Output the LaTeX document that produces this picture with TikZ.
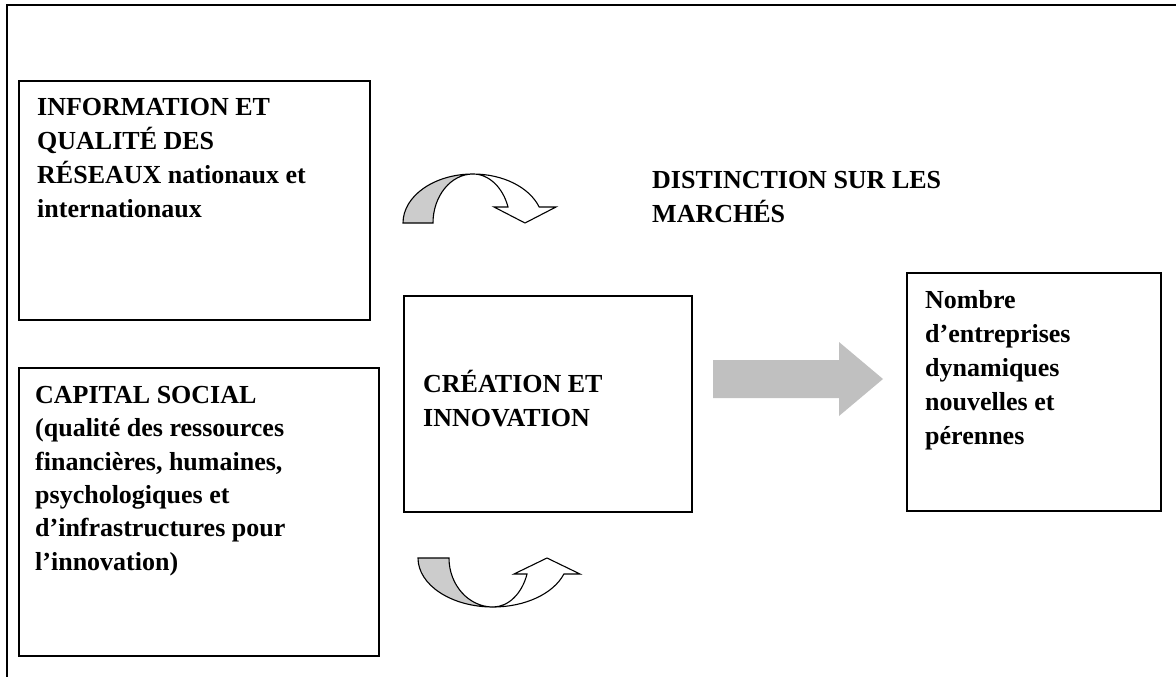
\documentclass[tikz,border=0pt]{standalone}
\usepackage{fontspec}
\setmainfont{Liberation Serif}
\definecolor{bandgray}{RGB}{204,204,204}
\definecolor{flowgray}{RGB}{192,192,192}
\newcommand{\firststrut}{\rule{0pt}{24pt}}
\begin{document}
\begin{tikzpicture}[x=1pt,y=-1pt,
  frameline/.style={line width=2pt},
  panel/.style={draw, line width=1.6pt, rectangle, inner sep=0pt, anchor=north west},
  label/.style={anchor=north west, inner sep=0pt, align=left,
    font=\fontsize{26}{34}\selectfont\bfseries},
  band/.style={draw, line width=1.1pt, line join=miter},
]
\useasboundingbox (0,0) rectangle (1176,677);

% page frame (top and left rules)
\draw[frameline] (7,677) -- (7,5.5) -- (1176,5.5);

% boxes
\node[panel, minimum width=351pt, minimum height=239pt] (info) at (18,80) {};
\node[panel, minimum width=360pt, minimum height=288pt] (capital) at (18,367) {};
\node[panel, minimum width=288pt, minimum height=216pt] (creation) at (403,295) {};
\node[panel, minimum width=254pt, minimum height=238pt] (nombre) at (906,272) {};

% box texts
\node[label] (infotext) at (37,91) {\firststrut INFORMATION ET\\QUALITÉ DES\\RÉSEAUX nationaux et\\internationaux};
\node[label, font=\fontsize{26}{33.4}\selectfont\bfseries] (capitaltext) at (35,379) {\firststrut CAPITAL SOCIAL\\(qualité des ressources\\financières, humaines,\\psychologiques et\\d’infrastructures pour\\l’innovation)};
\node[label] (creationtext) at (423,368) {\firststrut CRÉATION ET\\INNOVATION};
\node[label] (nombretext) at (925,284) {\firststrut Nombre\\d’entreprises\\dynamiques\\nouvelles et\\pérennes};
\node[label] (distinction) at (652,164) {\firststrut DISTINCTION SUR LES\\MARCHÉS};

% curved arrow above (turning down)
\draw[band, fill=bandgray] (403,223)
  arc[start angle=180, end angle=270, x radius=70, y radius=49]
  arc[start angle=270, end angle=180, x radius=40, y radius=49] -- cycle;
\draw[band, fill=white] (473,174)
  arc[start angle=270, end angle=340.94, x radius=70, y radius=49]
  -- (556,207) -- (525,223) -- (494,207) -- (508,207)
  arc[start angle=340.94, end angle=270, x radius=37, y radius=49] -- cycle;

% curved arrow below (turning up)
\draw[band, fill=bandgray] (418,558)
  arc[start angle=180, end angle=90, x radius=75, y radius=49]
  arc[start angle=90, end angle=180, x radius=44, y radius=49] -- cycle;
\draw[band, fill=white] (493,607)
  arc[start angle=90, end angle=19.06, x radius=75, y radius=49]
  -- (580,574) -- (547,558) -- (514,574) -- (527,574)
  arc[start angle=19.06, end angle=90, x radius=36, y radius=49] -- cycle;

% block arrow from creation to nombre
\fill[flowgray] (713,360) -- (839,360) -- (839,342) -- (883,379)
  -- (839,416) -- (839,398) -- (713,398) -- cycle;
\end{tikzpicture}
\end{document}
